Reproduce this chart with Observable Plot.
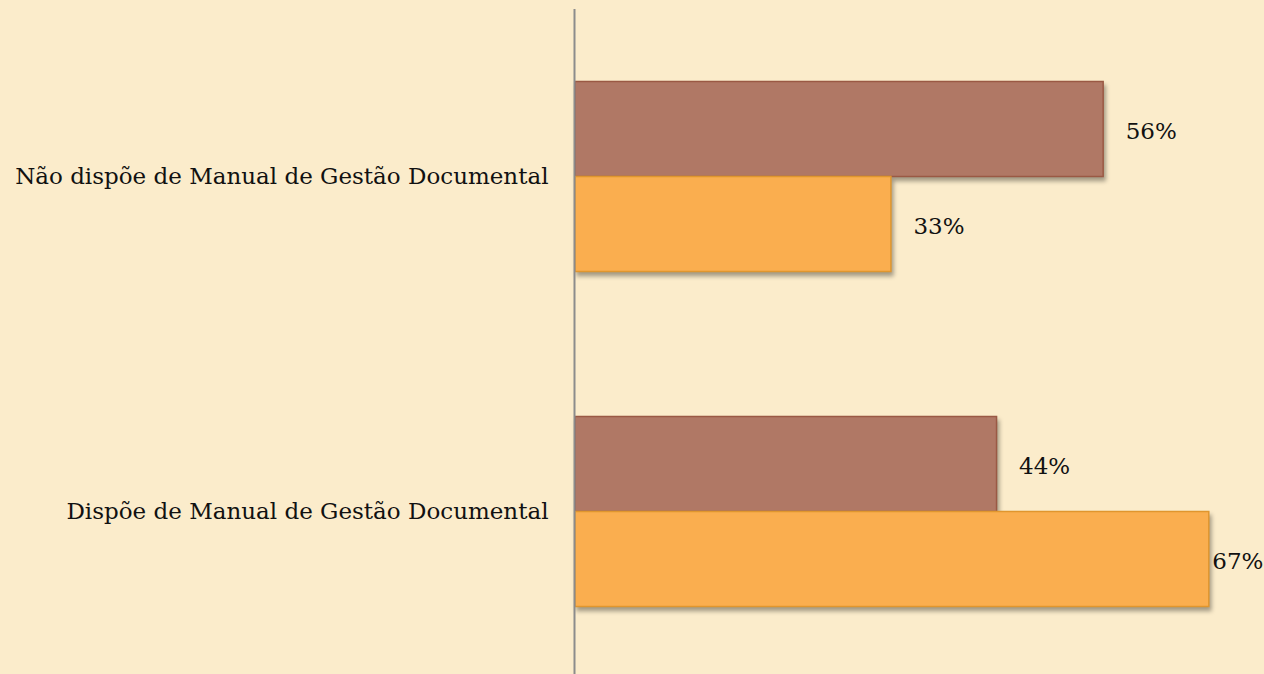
<!DOCTYPE html>
<html>
<head>
<meta charset="utf-8">
<script src="https://cdn.jsdelivr.net/npm/d3@7"></script>
<script src="https://cdn.jsdelivr.net/npm/@observablehq/plot@0.6"></script>
<style>
  html, body { margin: 0; padding: 0; background: #FBECCB; overflow: hidden; }
  #chart svg { display: block; background: #FBECCB; }
</style>
</head>
<body>
<div id="chart"></div>
<script>
const categories = ["Não dispõe de Manual de Gestão Documental", "Dispõe de Manual de Gestão Documental"];
const series = ["Série A", "Série B"];
const seriesA = [55.6, 44.4];   // brown bars (top of each pair)
const seriesB = [33.3, 66.7];   // orange bars (bottom of each pair)
const valueLabels = [["56%", "44%"], ["33%", "67%"]];

const colors = ["#B07865", "#FAAE4F"];
const strokes = ["#9A5944", "#E0962E"];

const data = [];
categories.forEach((c, i) => {
  data.push({cat: c, s: series[0], v: seriesA[i], label: valueLabels[0][i]});
  data.push({cat: c, s: series[1], v: seriesB[i], label: valueLabels[1][i]});
});

const W = 1264;
const x0 = 574;
const xMax = 72.5;
const fontFamily = "'DejaVu Serif', Georgia, serif";

const chart = Plot.plot({
  width: W,
  height: 679,
  marginLeft: x0,
  marginRight: 0,
  marginTop: 8.5,
  marginBottom: 0,
  style: {background: "#FBECCB", fontFamily, color: "#111"},
  x: {domain: [0, xMax], axis: null},
  fy: {domain: categories, padding: 0, label: null},
  y: {domain: series, paddingInner: 0, paddingOuter: 0.75, axis: null},
  color: {domain: series, range: colors},
  marks: [
    Plot.axisFy({anchor: "left", tickSize: 0, tickPadding: 26, fontSize: 23, label: null, fill: "#111"}),
    Plot.barX(data, {
      fy: "cat", y: "s", x: "v",
      fill: "s",
      stroke: d => strokes[series.indexOf(d.s)],
      strokeWidth: 1.5,
      insetLeft: 1,
      imageFilter: "drop-shadow(2px 4px 2px rgba(0,0,0,0.35))"
    }),
    Plot.ruleX([0], {stroke: "#8C8C8C", strokeWidth: 2}),
    Plot.text(data.filter(d => d.v < 60), {
      fy: "cat", y: "s", x: "v", text: "label",
      textAnchor: "start", dx: 22, dy: 2, fontSize: 23, fill: "#111"
    }),
    Plot.text(data.filter(d => d.v >= 60), {
      fy: "cat", y: "s", x: "v", text: "label",
      textAnchor: "start", dx: 3, dy: 2, fontSize: 23, fill: "#111"
    })
  ]
});
document.getElementById("chart").appendChild(chart);
</script>
</body>
</html>
